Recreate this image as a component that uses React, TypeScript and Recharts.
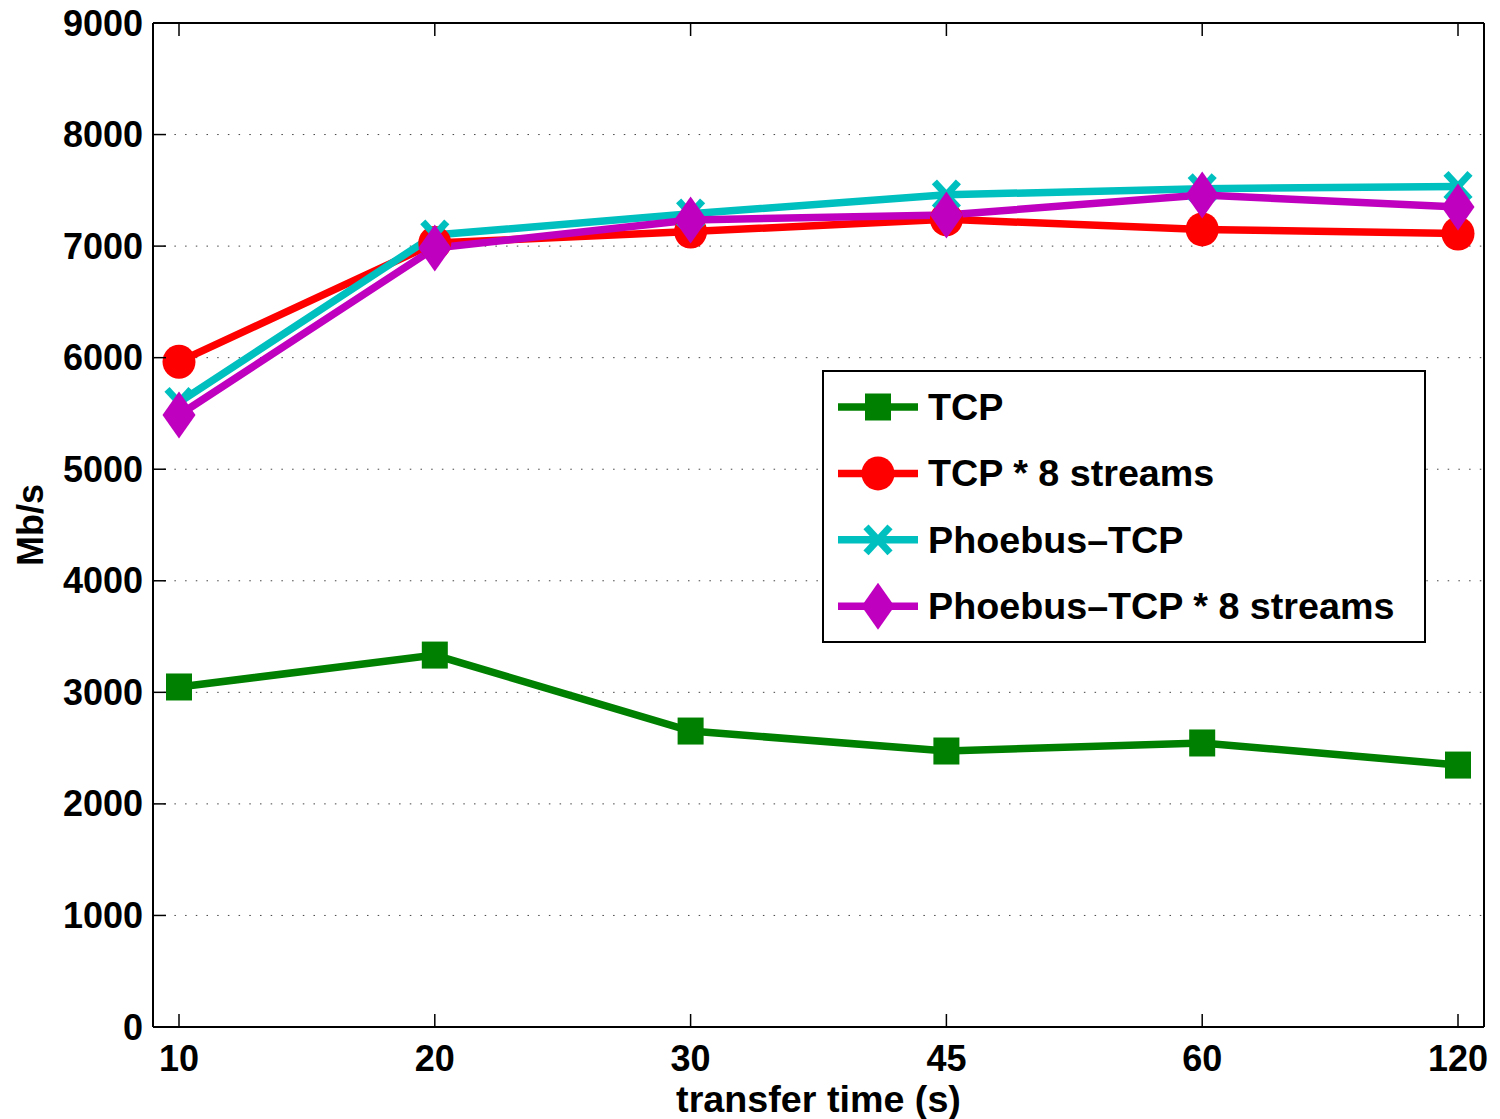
import React from 'react';
import { LineChart, Line, XAxis, YAxis, CartesianGrid, Legend, Label } from 'recharts';

// transfer times (categories)
const times = ['10', '20', '30', '45', '60', '120'];

// throughput in Mb/s
const tcp = [3048, 3334, 2653, 2474, 2546, 2348];
const tcp8 = [5964, 7028, 7130, 7240, 7150, 7112];
const phoebus = [5600, 7100, 7290, 7460, 7515, 7535];
const phoebus8 = [5486, 6983, 7234, 7279, 7458, 7350];

const yTicks = [0, 1000, 2000, 3000, 4000, 5000, 6000, 7000, 8000, 9000];

const FONT = '"Liberation Sans", Arial, Helvetica, sans-serif';

type MarkerKind = 'square' | 'circle' | 'x' | 'diamond';

const series: { key: string; name: string; color: string; marker: MarkerKind; values: number[] }[] = [
  { key: 'tcp', name: 'TCP', color: '#008000', marker: 'square', values: tcp },
  { key: 'tcp8', name: 'TCP * 8 streams', color: '#ff0000', marker: 'circle', values: tcp8 },
  { key: 'phoebus', name: 'Phoebus\u2013TCP', color: '#00bfbf', marker: 'x', values: phoebus },
  { key: 'phoebus8', name: 'Phoebus\u2013TCP * 8 streams', color: '#bf00bf', marker: 'diamond', values: phoebus8 },
];

const data = times.map((t, i) => {
  const row: Record<string, string | number> = { time: t };
  series.forEach((s) => {
    row[s.key] = s.values[i];
  });
  return row;
});

const Marker = ({ kind, cx, cy, color }: { kind: MarkerKind; cx: number; cy: number; color: string }) => {
  switch (kind) {
    case 'square':
      return <rect x={cx - 13} y={cy - 13.5} width={26} height={27} fill={color} />;
    case 'circle':
      return <ellipse cx={cx} cy={cy} rx={16.5} ry={17} fill={color} />;
    case 'x':
      return (
        <g stroke={color} strokeWidth={7}>
          <line x1={cx - 12} y1={cy - 13} x2={cx + 12} y2={cy + 13} />
          <line x1={cx - 12} y1={cy + 13} x2={cx + 12} y2={cy - 13} />
        </g>
      );
    default:
      return (
        <polygon
          points={`${cx},${cy - 23.5} ${cx + 16.5},${cy} ${cx},${cy + 23.5} ${cx - 16.5},${cy}`}
          fill={color}
        />
      );
  }
};

const LeftTick = (props: any) => {
  const { x, y, payload } = props;
  return (
    <g>
      <line x1={x + 10} x2={x + 23} y1={y} y2={y} stroke="#000" strokeWidth={1.5} />
      <text x={x} y={y} textAnchor="end" dominantBaseline="central" fontFamily={FONT} fontWeight="bold" fontSize={36} fill="#000">
        {payload.value}
      </text>
    </g>
  );
};

const RightTick = (props: any) => {
  const { x, y } = props;
  return <line x1={x - 13} x2={x} y1={y} y2={y} stroke="#000" strokeWidth={1.5} />;
};

const BottomTick = (props: any) => {
  const { x, y, payload } = props;
  return (
    <g>
      <line x1={x} x2={x} y1={y} y2={y - 13} stroke="#000" strokeWidth={1.5} />
      <text x={x} y={y + 44} textAnchor="middle" fontFamily={FONT} fontWeight="bold" fontSize={36} fill="#000">
        {payload.value}
      </text>
    </g>
  );
};

const TopTick = (props: any) => {
  const { x, y } = props;
  return <line x1={x} x2={x} y1={y} y2={y + 13} stroke="#000" strokeWidth={1.5} />;
};

const renderLegend = () => (
  <svg width={604} height={273} style={{ display: 'block' }}>
    <rect x={1} y={1} width={602} height={271} fill="#fff" stroke="#000" strokeWidth={2} />
    {series.map((s, i) => {
      const cy = 37 + i * 66.4;
      return (
        <g key={s.key}>
          <line x1={16} x2={96} y1={cy} y2={cy} stroke={s.color} strokeWidth={7.5} />
          <Marker kind={s.marker} cx={56} cy={cy} color={s.color} />
          <text x={106} y={cy} dominantBaseline="central" fontFamily={FONT} fontWeight="bold" fontSize={37.7} fill="#000">
            {s.name}
          </text>
        </g>
      );
    })}
  </svg>
);

const App = () => {
  return (
    <div style={{ position: 'absolute', left: 0, top: 0, background: '#fff' }}>
      <LineChart width={1500} height={1119} data={data} margin={{ top: 22, right: 15, left: 0, bottom: 0 }}>
        <CartesianGrid vertical={false} stroke="#444" strokeDasharray="1.5 9.2" strokeWidth={1} />
        <XAxis
          dataKey="time"
          height={92}
          padding={{ left: 26, right: 26 }}
          tickSize={0}
          tickMargin={0}
          tick={<BottomTick />}
          axisLine={{ stroke: '#000', strokeWidth: 2 }}
          interval={0}
        >
          <Label
            content={(p: any) => {
              const vb = p.viewBox;
              return (
                <text x={vb.x + vb.width / 2} y={vb.y + 85} textAnchor="middle" fontFamily={FONT} fontWeight="bold" fontSize={37.7} fill="#000">
                  transfer time (s)
                </text>
              );
            }}
          />
        </XAxis>
        <XAxis
          xAxisId="top"
          orientation="top"
          dataKey="time"
          height={1}
          padding={{ left: 26, right: 26 }}
          tickSize={0}
          tickMargin={0}
          tick={<TopTick />}
          axisLine={{ stroke: '#000', strokeWidth: 2 }}
          interval={0}
        />
        <YAxis
          width={153}
          domain={[0, 9000]}
          ticks={yTicks}
          type="number"
          tickSize={0}
          tickMargin={10}
          tick={<LeftTick />}
          axisLine={{ stroke: '#000', strokeWidth: 2 }}
          interval={0}
        >
          <Label
            content={(p: any) => {
              const vb = p.viewBox;
              const cx = 43;
              const cy = vb.y + vb.height / 2;
              return (
                <text x={cx} y={cy} textAnchor="middle" transform={`rotate(-90, ${cx}, ${cy})`} fontFamily={FONT} fontWeight="bold" fontSize={36} fill="#000">
                  Mb/s
                </text>
              );
            }}
          />
        </YAxis>
        <YAxis
          yAxisId="right"
          orientation="right"
          width={1}
          domain={[0, 9000]}
          ticks={yTicks}
          type="number"
          tickSize={0}
          tickMargin={0}
          tick={<RightTick />}
          axisLine={{ stroke: '#000', strokeWidth: 2 }}
          interval={0}
        />
        <Legend
          layout="vertical"
          align="center"
          verticalAlign="middle"
          content={renderLegend}
          wrapperStyle={{ left: 822, top: 370, width: 604, height: 273 }}
        />
        {series.map((s) => (
          <Line
            key={s.key}
            dataKey={s.key}
            name={s.name}
            stroke={s.color}
            strokeWidth={7.5}
            isAnimationActive={false}
            activeDot={false}
            dot={(p: any) => <Marker key={`${s.key}-${p.index}`} kind={s.marker} cx={p.cx} cy={p.cy} color={s.color} />}
          />
        ))}
      </LineChart>
    </div>
  );
};

export default App;
